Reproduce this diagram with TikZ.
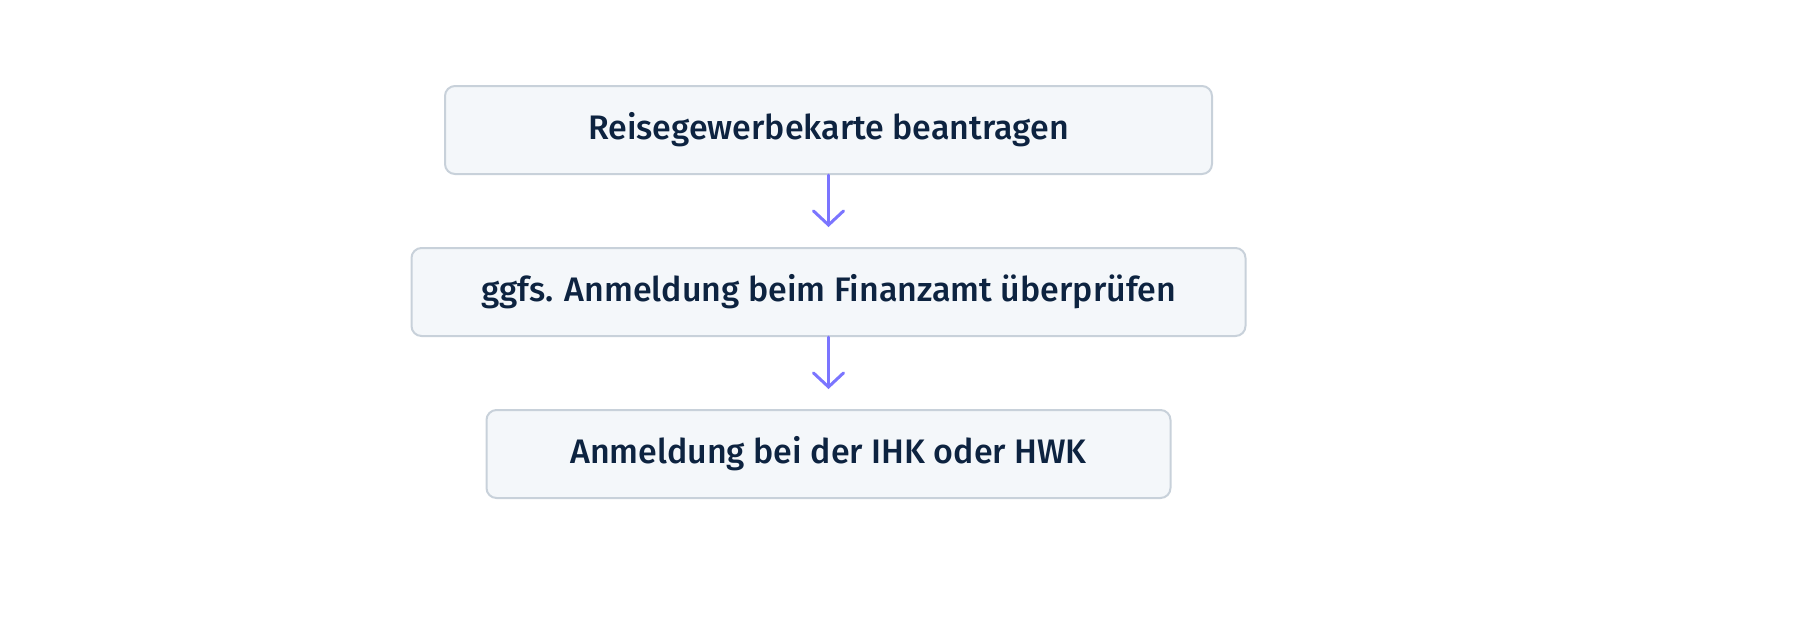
\documentclass[tikz,border=0pt]{standalone}
\usepackage{fontspec}
\setmainfont{Fira Sans}[UprightFont=* Medium]
\usepackage{tikz}
\usetikzlibrary{arrows.meta,positioning}
\definecolor{cajafondo}{HTML}{F4F7FA}
\definecolor{cajaborde}{HTML}{C8D1DA}
\definecolor{flecha}{HTML}{7B75FF}
\definecolor{texto}{HTML}{0D2340}
\tikzstyle{paso}=[rectangle,draw=cajaborde,fill=cajafondo,line width=1pt,rounded corners=5pt,text=texto,font=\fontsize{17}{20}\selectfont,align=center,minimum height=44pt]
\tikzstyle{enlace}=[draw=flecha,line width=1.5pt,line cap=round,shorten >=10pt,-{Straight Barb[length=7pt,width=15pt,line cap=round]}]

\begin{document}
\begin{tikzpicture}[node distance=36pt]
	\useasboundingbox (0,0) rectangle (900pt,-317pt);
	\node[paso,minimum width=383.5pt] (antrag) at (414.25pt,-65pt) {Reisegewerbekarte beantragen};
	\node[paso,minimum width=417pt] (finanzamt) [below=of antrag] {ggfs. Anmeldung beim Finanzamt überprüfen};
	\node[paso,minimum width=342pt] (kammer) [below=of finanzamt] {Anmeldung bei der IHK oder HWK};
	\draw[enlace] (antrag) -- (finanzamt);
	\draw[enlace] (finanzamt) -- (kammer);
\end{tikzpicture}
\end{document}
